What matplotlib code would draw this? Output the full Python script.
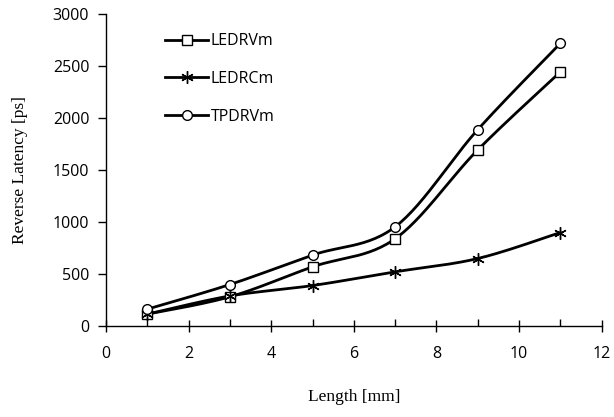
import numpy as np
import matplotlib.pyplot as plt

length_mm = [1, 3, 5, 7, 9, 11]
ledrvm = [115, 282, 570, 840, 1695, 2445]
ledrcm = [115, 290, 390, 522, 650, 900]
tpdrvm = [163, 400, 683, 955, 1890, 2720]

series = [("LEDRVm", ledrvm, "s"), ("LEDRCm", ledrcm, (6, 2, 0)), ("TPDRVm", tpdrvm, "o")]


def smooth(x, y, n=30):
    """Excel-like smoothed line: Catmull-Rom style cubic Bezier between points."""
    x = np.asarray(x, float)
    y = np.asarray(y, float)
    px = np.concatenate([[x[0]], x, [x[-1]]])
    py = np.concatenate([[y[0]], y, [y[-1]]])
    xs, ys = [], []
    t = np.linspace(0, 1, n)
    for i in range(1, len(px) - 2):
        p0 = np.array([px[i], py[i]])
        p3 = np.array([px[i + 1], py[i + 1]])
        c1 = p0 + (np.array([px[i + 1], py[i + 1]]) - np.array([px[i - 1], py[i - 1]])) / 6
        c2 = p3 - (np.array([px[i + 2], py[i + 2]]) - np.array([px[i], py[i]])) / 6
        b = ((1 - t) ** 3)[:, None] * p0 + (3 * (1 - t) ** 2 * t)[:, None] * c1 \
            + (3 * (1 - t) * t ** 2)[:, None] * c2 + (t ** 3)[:, None] * p3
        xs.append(b[:, 0])
        ys.append(b[:, 1])
    return np.concatenate(xs), np.concatenate(ys)


fig = plt.figure(figsize=(6.14, 4.17), dpi=100)
ax = fig.add_axes([0.1726, 0.218, 0.8074, 0.748])

for name, vals, mk in series:
    star = mk == (6, 2, 0)
    ms = 9 if star else 7
    sx, sy = smooth(length_mm, vals)
    ax.plot(sx, sy, color="black", lw=2.0, zorder=2)
    ax.plot(length_mm, vals, linestyle="none", marker=mk, ms=ms,
            mfc="white", mec="black", mew=1.0, zorder=3)
    # legend proxy
    ax.plot([], [], color="black", lw=2.0, marker=mk, ms=ms,
            mfc="white", mec="black", mew=1.0, label=name)

ax.set_xlim(0, 12)
ax.set_ylim(0, 3000)
ax.set_xticks(range(0, 13, 2))
ax.set_xticks(range(1, 12, 2), minor=True)
ax.set_yticks(range(0, 3001, 500))

for s in ["top", "right"]:
    ax.spines[s].set_visible(False)
for s in ["left", "bottom"]:
    ax.spines[s].set_linewidth(1.0)

ax.tick_params(axis="x", which="major", direction="inout", length=8, width=1, pad=10)
ax.tick_params(axis="x", which="minor", direction="in", length=5, width=1)
ax.tick_params(axis="y", which="major", direction="out", length=6, width=1, pad=6)

tick_font = "Open Sans"
for lbl in ax.get_xticklabels() + ax.get_yticklabels():
    lbl.set_fontfamily(tick_font)
    lbl.set_fontsize(11.5)

ax.set_xlabel("Length [mm]", family="Liberation Serif", fontsize=12.5, labelpad=20)
ax.set_ylabel("Reverse Latency [ps]", family="Liberation Serif", fontsize=12.5, labelpad=18)

leg = ax.legend(loc="upper left", bbox_to_anchor=(0.09, 0.985), frameon=False,
                prop={"family": tick_font, "size": 11.5}, handlelength=2.7,
                handletextpad=0.15, labelspacing=1.36)

fig.savefig("out.png", dpi=100)
